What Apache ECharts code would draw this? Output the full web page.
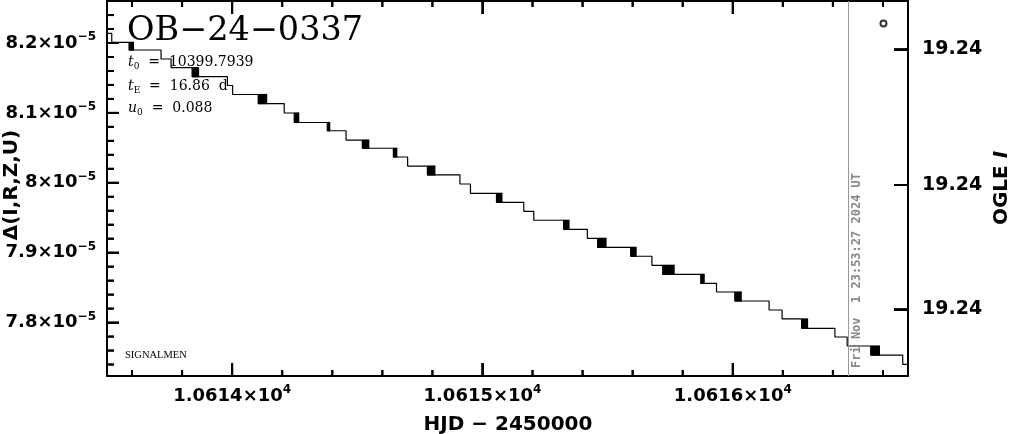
<!DOCTYPE html>
<html><head><meta charset="utf-8">
<script src="https://cdn.jsdelivr.net/npm/echarts@6/dist/echarts.min.js"></script>
<style>html,body{margin:0;padding:0;background:#fff}#c{width:1011px;height:434px}</style>
</head><body><div id="c"></div>
<script>
// ---- data (flux in units of 1e-5, time in HJD-2450000) ----
const hjdStart = 10613.5, hjdEnd = 10616.7;
const yMin = 7.7236, yMax = 8.2601;
const stepLevels = [8.2139, 8.2010, 8.1900, 8.1771, 8.1647, 8.1518, 8.1392, 8.1263, 8.1134, 8.0999,
  8.0863, 8.0745, 8.0612, 8.0494, 8.0369, 8.0240, 8.0112, 7.9983, 7.9850, 7.9721,
  7.9592, 7.9464, 7.9335, 7.9206, 7.9077, 7.8949, 7.8820, 7.8691, 7.8562, 7.8438,
  7.8309, 7.8180, 7.8052, 7.7918, 7.7794, 7.7665, 7.7536, 7.7403];
const stepTimes = [10613.519, 10613.588, 10613.716, 10613.756, 10613.840, 10613.981, 10614.002, 10614.104, 10614.208, 10614.248,
  10614.380, 10614.455, 10614.520, 10614.644, 10614.701, 10614.780, 10614.910, 10614.952, 10615.056, 10615.165,
  10615.205, 10615.324, 10615.419, 10615.460, 10615.592, 10615.677, 10615.720, 10615.872, 10615.935, 10616.008,
  10616.145, 10616.197, 10616.275, 10616.408, 10616.457, 10616.551, 10616.679];
// dense observation blocks: [tStart, tEnd, upper level, lower level]
const clusters = [
  [10613.588, 10613.608, 8.2010, 8.1900], [10613.840, 10613.868, 8.1647, 8.1518], [10614.104, 10614.140, 8.1263, 8.1134],
  [10614.248, 10614.268, 8.0999, 8.0863], [10614.380, 10614.392, 8.0863, 8.0745], [10614.520, 10614.548, 8.0612, 8.0494],
  [10614.644, 10614.660, 8.0494, 8.0369], [10614.780, 10614.812, 8.0240, 8.0112], [10615.056, 10615.080, 7.9850, 7.9721],
  [10615.324, 10615.348, 7.9464, 7.9335], [10615.460, 10615.496, 7.9206, 7.9077], [10615.592, 10615.616, 7.9077, 7.8949],
  [10615.720, 10615.768, 7.8820, 7.8691], [10615.872, 10615.888, 7.8691, 7.8562], [10616.008, 10616.036, 7.8438, 7.8309],
  [10616.275, 10616.301, 7.8052, 7.7918], [10616.551, 10616.588, 7.7665, 7.7536]
];
const ogleI = [[10616.602, 8.2279]];
const nowHJD = 10616.46;
const nowLabel = 'Fri Nov  1 23:53:27 2024 UT';
const xMajor = [10614, 10615, 10616];
const xMinor = [10613.6, 10613.8, 10614.2, 10614.4, 10614.6, 10614.8, 10615.2, 10615.4, 10615.6, 10615.8, 10616.2, 10616.4, 10616.6];
const yMajor = [7.8, 7.9, 8.0, 8.1, 8.2];
const yMinor = [7.74, 7.76, 7.78, 7.82, 7.84, 7.86, 7.88, 7.92, 7.94, 7.96, 7.98, 8.02, 8.04, 8.06, 8.08, 8.12, 8.14, 8.16, 8.18, 8.22, 8.24];
const rightTicks = [8.1910, 7.9969, 7.8190];
const rightTickLabels = ['19.24', '19.24', '19.24'];
const eventName = 'OB\u221224\u22120337';
const fitParams = [
  { sym: 't', sub: '0', val: '10399.7939', unit: '' },
  { sym: 't', sub: 'E', val: '16.86', unit: '  d' },
  { sym: 'u', sub: '0', val: '0.088', unit: '' }
];
const surveyTag = 'SIGNALMEN';

// ---- build ----
const linePts = [[hjdStart, stepLevels[0]]];
for (let i = 0; i < stepTimes.length; i++) linePts.push([stepTimes[i], stepLevels[i + 1]]);
linePts.push([hjdEnd, stepLevels[stepLevels.length - 1]]);

// tick descriptors: [x, y, side(0 bottom,1 top,2 left,3 right), length]
const tickData = [];
xMajor.forEach(v => { tickData.push([v, yMin, 0, 13]); tickData.push([v, yMax, 1, 13]); });
xMinor.forEach(v => { tickData.push([v, yMin, 0, 6]); tickData.push([v, yMax, 1, 6]); });
yMajor.forEach(v => tickData.push([hjdStart, v, 2, 12]));
yMinor.forEach(v => tickData.push([hjdStart, v, 2, 7]));
rightTicks.forEach(v => tickData.push([hjdEnd, v, 3, 14]));
function tickShape(p, side, len) {
  if (side === 0) return { x: p[0] - 1, y: p[1] - len, width: 2, height: len };
  if (side === 1) return { x: p[0] - 1, y: p[1], width: 2, height: len };
  if (side === 2) return { x: p[0], y: p[1] - 1, width: len, height: 2 };
  return { x: p[0] - len, y: p[1] - 1, width: len, height: 2 };
}

const FONT = 'DejaVu Sans';
const black = '#000';
const labRich = {
  m: { fontFamily: FONT, fontWeight: 'bold', fontSize: 18, color: black, lineHeight: 24 },
  s: { fontFamily: FONT, fontWeight: 'bold', fontSize: 12, color: black, lineHeight: 12, verticalAlign: 'top' }
};
function axLine() { return { show: true, onZero: false, lineStyle: { color: black, width: 2 } }; }
function tk(len, vals) { return { show: true, inside: true, length: len, lineStyle: { color: black, width: 2 }, customValues: vals }; }

const xAxes = [
  { type: 'value', position: 'bottom', min: hjdStart, max: hjdEnd, splitLine: { show: false }, axisLine: axLine(),
    axisTick: tk(13, xMajor),
    axisLabel: { show: true, customValues: xMajor, margin: 8, hideOverlap: false, rich: labRich,
      formatter: v => '{m|' + (v / 1e4).toFixed(4) + '\u00d710}{s|4}' } },
  { type: 'value', position: 'top', min: hjdStart, max: hjdEnd, splitLine: { show: false }, axisLine: axLine(),
    axisTick: tk(13, xMajor), axisLabel: { show: false } }
];
const yAxes = [
  { type: 'value', position: 'left', min: yMin, max: yMax, splitLine: { show: false }, axisLine: axLine(),
    axisTick: tk(12, yMajor),
    axisLabel: { show: true, customValues: yMajor, margin: 11, hideOverlap: false, rich: labRich,
      formatter: v => '{m|' + (+v.toFixed(1)) + '\u00d710}{s|\u22125}' } },
  { type: 'value', position: 'right', min: yMin, max: yMax, splitLine: { show: false }, axisLine: axLine(),
    axisTick: tk(14, rightTicks),
    axisLabel: { show: true, customValues: rightTicks, margin: 14, hideOverlap: false, fontFamily: FONT, fontWeight: 'bold', fontSize: 19, color: black,
      formatter: v => { let bi = 0; rightTicks.forEach((t, i) => { if (Math.abs(t - v) < Math.abs(rightTicks[bi] - v)) bi = i; }); return rightTickLabels[bi]; } } }
];

const paramRich = {
  i: { fontFamily: 'DejaVu Serif', fontStyle: 'italic', fontSize: 14, color: black, lineHeight: 18 },
  s: { fontFamily: 'DejaVu Serif', fontSize: 9, color: black, lineHeight: 8, verticalAlign: 'bottom' },
  n: { fontFamily: 'DejaVu Serif', fontSize: 14, color: black, lineHeight: 18 }
};
const paramY = [62, 86, 108];
const graphics = [
  { id: 'title', type: 'text', x: 127, y: 31, style: { text: eventName, font: '33.5px "DejaVu Serif"', fill: black, textVerticalAlign: 'middle' } },
  { id: 'tag', type: 'text', x: 125, y: 355, style: { text: surveyTag, font: '10.5px "Liberation Serif"', fill: black, textVerticalAlign: 'middle' } },
  { id: 'xname', type: 'text', x: 508, y: 425, style: { text: 'HJD \u2212 2450000', font: 'bold 20px "DejaVu Sans"', fill: black, textAlign: 'center', textVerticalAlign: 'middle' } },
  { id: 'yname', type: 'text', x: 12, y: 185, rotation: Math.PI / 2, style: { text: '\u0394(I,R,Z,U)', font: 'bold 20px "DejaVu Sans"', fill: black, textAlign: 'center', textVerticalAlign: 'middle' } },
  { id: 'rname', type: 'text', x: 1002, y: 188, rotation: Math.PI / 2, style: { text: '{a|OGLE }{b|I}', textAlign: 'center', textVerticalAlign: 'middle',
      rich: { a: { fontFamily: FONT, fontWeight: 'bold', fontSize: 20, color: black }, b: { fontFamily: FONT, fontWeight: 'bold', fontStyle: 'italic', fontSize: 20, color: black } } } }
];
fitParams.forEach((p, k) => {
  graphics.push({ id: 'par' + k, type: 'text', x: 128, y: paramY[k], style: {
    text: '{i|' + p.sym + '}{s|' + p.sub + '}{n|  =  ' + p.val + p.unit + '}', rich: paramRich, textVerticalAlign: 'middle' } });
});

const option = {
  animation: false,
  grid: { left: 107, right: 103, top: 1, bottom: 58 },
  xAxis: xAxes,
  yAxis: yAxes,
  graphic: graphics,
  series: [
    {
      type: 'line', xAxisIndex: 0, yAxisIndex: 0, data: linePts, step: 'end', showSymbol: false, symbol: 'none',
      lineStyle: { color: black, width: 1.2 }, silent: true,
      markLine: {
        silent: true, symbol: ['none', 'none'], animation: false,
        lineStyle: { color: '#999', width: 1, type: 'solid' },
        label: { show: true, formatter: nowLabel, position: 'insideStartBottom', color: '#888', fontFamily: 'DejaVu Sans Mono', fontWeight: 'bold', fontSize: 12, distance: [8, 3] },
        data: [{ xAxis: nowHJD }]
      }
    },
    {
      type: 'custom', xAxisIndex: 0, yAxisIndex: 0, data: clusters, encode: { x: [0, 1], y: [2, 3] }, silent: true,
      renderItem: (params, api) => {
        const p1 = api.coord([api.value(0), api.value(2)]);
        const p2 = api.coord([api.value(1), api.value(3)]);
        return { type: 'rect', shape: { x: p1[0], y: p1[1] - 0.6, width: Math.max(p2[0] - p1[0], 2), height: p2[1] - p1[1] + 1.2 }, style: { fill: black } };
      }
    },
    {
      type: 'custom', xAxisIndex: 0, yAxisIndex: 0, data: tickData, encode: { x: [0], y: [1] }, silent: true, clip: false, zlevel: 1,
      renderItem: (params, api) => {
        const p = api.coord([api.value(0), api.value(1)]);
        return { type: 'rect', shape: tickShape(p, api.value(2), api.value(3)), style: { fill: black } };
      }
    },
    {
      type: 'scatter', xAxisIndex: 0, yAxisIndex: 0, data: ogleI, symbol: 'circle', symbolSize: 6, silent: true,
      itemStyle: { color: '#fff', borderColor: black, borderWidth: 2 }
    }
  ]
};
const chart = echarts.init(document.getElementById('c'), null, { renderer: 'canvas' });
chart.setOption(option);

// ticks again as graphic rects placed through the chart's own scales (top layer)
try {
  const tickEls = tickData.map((t, i) => {
    const p = chart.convertToPixel({ gridIndex: 0 }, [t[0], t[1]]);
    return { id: 'tick' + i, type: 'rect', zlevel: 2, z: 100, silent: true, shape: tickShape(p, t[2], t[3]), style: { fill: black } };
  });
  chart.setOption({ graphic: { elements: graphics.concat(tickEls) } });
} catch (e) { /* keep chart as is */ }
</script>
</body></html>
